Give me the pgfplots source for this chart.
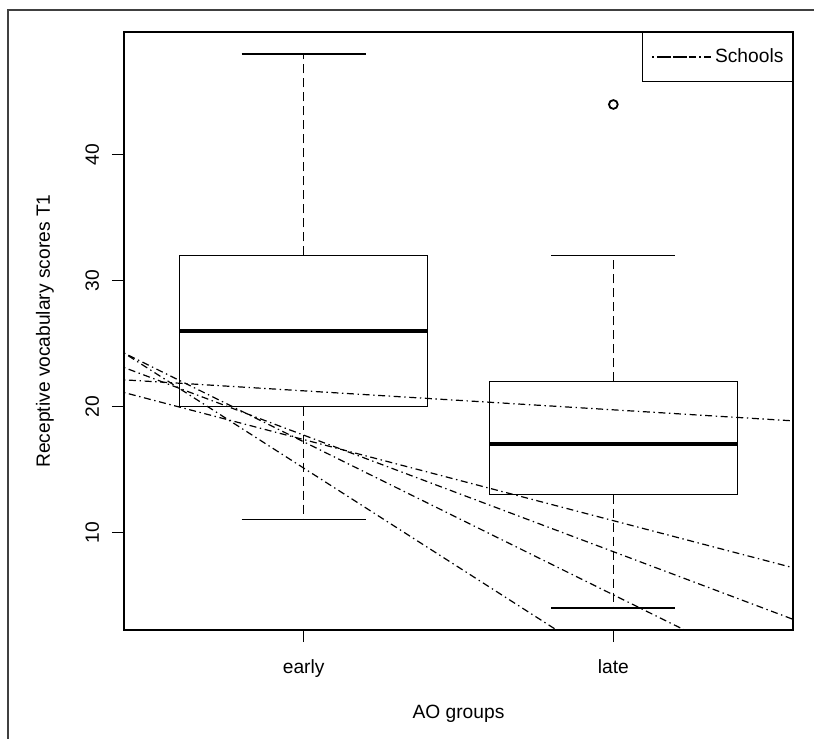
\documentclass[border=0pt]{standalone}
\usepackage{pgfplots}
\pgfplotsset{compat=1.18}
\usepackage{fontspec}
\setmainfont{Liberation Sans}
\begin{document}
\fontsize{9.6pt}{11.5pt}\selectfont
\begin{tikzpicture}
\begin{axis}[
  scale only axis,
  width=334.5pt, height=299pt,
  xmin=0.42, xmax=2.58, ymin=2.24, ymax=49.76,
  xtick={1,2}, xticklabels={early,late},
  ytick={10,20,30,40},
  tick align=outside, tick pos=left,
  major tick length=6pt,
  tick style={black, line width=0.6pt},
  axis line style={black, line width=0.65pt},
  /pgf/number format/assume math mode=true,
  font=\fontsize{9.6pt}{11.5pt}\selectfont,
  yticklabel style={rotate=90, anchor=base, inner sep=0pt},
  yticklabel shift=6.5pt,
  xticklabel style={anchor=north, inner sep=0pt},
  xticklabel shift=8.5pt,
  xlabel={AO groups}, ylabel={Receptive vocabulary scores T1},
  xlabel style={at={([yshift=-37.5pt]axis description cs:0.5,0)}, anchor=north, inner sep=0pt},
  ylabel style={at={([xshift=-37pt]axis description cs:0,0.5)}, rotate=0, anchor=base, inner sep=0pt},
  legend style={at={(1,1)}, anchor=north east, draw=black, line width=0.6pt,
    inner xsep=4.5pt, inner ysep=8pt, nodes={inner sep=0pt},
    font=\fontsize{9.6pt}{11.5pt}\selectfont},
  legend image code/.code={\path (-3.5pt,0pt) -- (27.5pt,0pt); \draw[#1] (0pt,0pt) -- (16.5pt,0pt);},
  boxline/.style={black, line width=0.65pt, forget plot},
  whisk/.style={black, line width=0.6pt, forget plot, dash pattern=on 4.5pt off 2.5pt},
  medline/.style={black, line width=1.8pt, forget plot},
  schoolline/.style={black, line width=0.6pt, dash pattern=on 0.7pt off 1.8pt on 3.5pt off 1.8pt},
]
% early group: box, median, whiskers, caps
\addplot[boxline] coordinates {(0.6,20) (1.4,20) (1.4,32) (0.6,32) (0.6,20)};
\addplot[medline] coordinates {(0.6,26) (1.4,26)};
\addplot[whisk] coordinates {(1,32) (1,48)};
\addplot[whisk] coordinates {(1,20) (1,11)};
\addplot[boxline] coordinates {(0.8,48) (1.2,48)};
\addplot[boxline] coordinates {(0.8,11) (1.2,11)};
% late group
\addplot[boxline] coordinates {(1.6,13) (2.4,13) (2.4,22) (1.6,22) (1.6,13)};
\addplot[medline] coordinates {(1.6,17) (2.4,17)};
\addplot[whisk] coordinates {(2,22) (2,32)};
\addplot[whisk] coordinates {(2,13) (2,4)};
\addplot[boxline] coordinates {(1.8,32) (2.2,32)};
\addplot[boxline] coordinates {(1.8,4) (2.2,4)};
\addplot[black, only marks, mark=o, mark size=2.2pt, mark options={line width=0.9pt}, forget plot] coordinates {(2,44)};
% school regression lines
\addplot[schoolline] coordinates {(0.42,22.12) (2.58,18.86)};
\addlegendentry{Schools}
\addplot[schoolline, forget plot] coordinates {(0.42,21.11) (2.58,7.19)};
\addplot[schoolline, forget plot] coordinates {(0.42,23.10) (2.58,3.09)};
\addplot[schoolline, forget plot] coordinates {(0.42,24.25) (2.58,-2.02)};
\addplot[schoolline, forget plot] coordinates {(0.42,24.25) (2.58,-9.79)};
\end{axis}
\draw[black!75, line width=1pt]
  ([shift={(-58pt,-70pt)}]current axis.south west) --
  ([shift={(-58pt,310pt)}]current axis.south west) --
  ([shift={(360pt,310pt)}]current axis.south west);
\pgfresetboundingbox
\useasboundingbox ([shift={(-62pt,-54.5pt)}]current axis.south west) rectangle ([shift={(345pt,315pt)}]current axis.south west);
\end{tikzpicture}
\end{document}
